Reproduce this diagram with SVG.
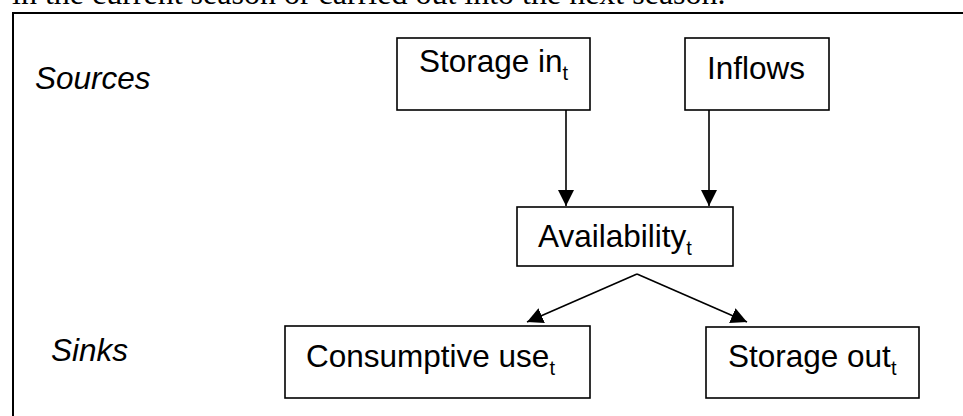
<svg xmlns="http://www.w3.org/2000/svg" width="963" height="416" viewBox="0 0 963 416">
<style>
.box{fill:#fff;stroke:#000;stroke-width:1.6}
.lbl{font-family:"Liberation Sans",Arial,sans-serif;font-size:31.5px;fill:#000}
.it{font-style:italic}
.sub{font-size:20px}
.edge{stroke:#000;stroke-width:1.6;fill:none;marker-end:url(#ah)}
</style>
<defs>
<marker id="ah" markerUnits="userSpaceOnUse" markerWidth="16" markerHeight="16" refX="16" refY="8" orient="auto">
<path d="M0,0 L16,8 L0,16 z" fill="#000"/>
</marker>
</defs>
<rect width="963" height="416" fill="#fff"/>
<text x="12" y="4" font-family="'Liberation Serif','Times New Roman',serif" font-size="32" fill="#000">in the current season or carried out into the next season.</text>
<rect x="13" y="13" width="970" height="420" fill="none" stroke="#000" stroke-width="2"/>
<text class="lbl it" x="35" y="89">Sources</text>
<text class="lbl it" x="51" y="361">Sinks</text>
<g id="connectors">
<line class="edge" x1="566" y1="110" x2="566" y2="206"/>
<line class="edge" x1="709" y1="110" x2="709" y2="206"/>
<line class="edge" x1="637" y1="274" x2="527" y2="322"/>
<line class="edge" x1="637" y1="274" x2="747" y2="322"/>
</g>
<g id="storage-in">
<rect class="box" x="397" y="38" width="193" height="72"/>
<text class="lbl" x="419" y="72">Storage in<tspan class="sub" dy="8">t</tspan></text>
</g>
<g id="inflows">
<rect class="box" x="685" y="38" width="144" height="72"/>
<text class="lbl" x="707" y="79">Inflows</text>
</g>
<g id="availability">
<rect class="box" x="517" y="207" width="216" height="59"/>
<text class="lbl" x="538" y="247">Availability<tspan class="sub" dy="8">t</tspan></text>
</g>
<g id="consumptive-use">
<rect class="box" x="285" y="326" width="305" height="72"/>
<text class="lbl" x="306" y="367">Consumptive use<tspan class="sub" dy="8">t</tspan></text>
</g>
<g id="storage-out">
<rect class="box" x="706" y="327" width="213" height="71"/>
<text class="lbl" x="728" y="367">Storage out<tspan class="sub" dy="8">t</tspan></text>
</g>
</svg>
